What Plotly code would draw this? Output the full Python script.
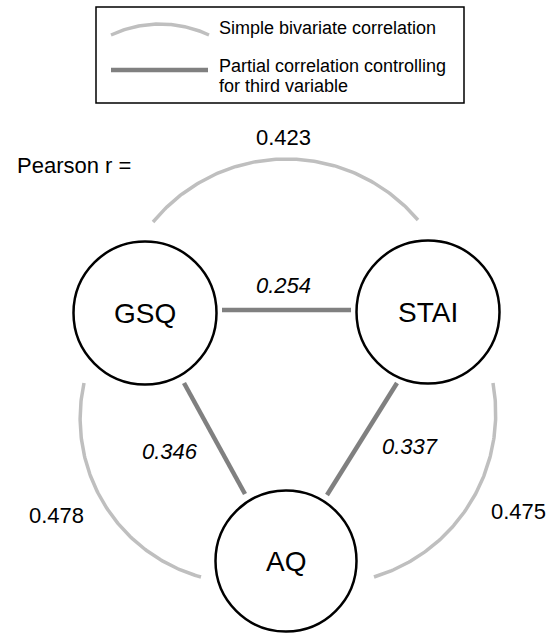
import math
import numpy as np
import plotly.graph_objects as go

# ---------------- data ----------------
nodes = ["GSQ", "STAI", "AQ"]
pair_a = ["GSQ", "GSQ", "STAI"]
pair_b = ["STAI", "AQ", "AQ"]
simple_r = [0.423, 0.478, 0.475]      # simple bivariate correlations
partial_r = [0.254, 0.346, 0.337]     # partial correlations
legend_lines = ["Simple bivariate correlation",
                "Partial correlation controlling",
                "for third variable"]
prefix_label = "Pearson r ="

# ---------------- layout (pixel space) ----------------
W, H = 555, 634
node_pos = {"GSQ": (145, 313), "STAI": (428, 312), "AQ": (286, 561)}
node_r = {"GSQ": 71.5, "STAI": 71.5, "AQ": 70.5}
# arcs: start, mid, end
arc_geom = [((153, 222), (286, 159), (418, 220)),
            ((84, 383), (98, 493), (201, 577)),
            ((493, 383), (476, 493), (374, 577))]
simple_lbl_pos = [(283, 137), (56, 515), (518, 511)]
partial_seg = [((222, 310), (351, 310)),
               ((184, 383), (245, 494)),
               ((397, 383), (327, 495))]
partial_lbl_pos = [(283, 285), (170, 451), (410, 446)]
legend_text_pos = [(217, 28), (217, 66), (217, 86)]

LIGHT = "#bfbfbf"
DARK = "#808080"
FONT = "Liberation Sans, Arial, sans-serif"


def arc_points(p1, p2, p3, n=120):
    (x1, y1), (x2, y2), (x3, y3) = p1, p2, p3
    d = 2 * (x1 * (y2 - y3) + x2 * (y3 - y1) + x3 * (y1 - y2))
    ux = ((x1**2 + y1**2) * (y2 - y3) + (x2**2 + y2**2) * (y3 - y1) + (x3**2 + y3**2) * (y1 - y2)) / d
    uy = ((x1**2 + y1**2) * (x3 - x2) + (x2**2 + y2**2) * (x1 - x3) + (x3**2 + y3**2) * (x2 - x1)) / d
    r = math.hypot(x1 - ux, y1 - uy)
    a1 = math.atan2(y1 - uy, x1 - ux)
    a2 = math.atan2(y2 - uy, x2 - ux)
    a3 = math.atan2(y3 - uy, x3 - ux)
    tw = 2 * math.pi
    d13 = (a3 - a1) % tw
    d12 = (a2 - a1) % tw
    if d12 > d13:
        d13 -= tw
    t = np.linspace(0, 1, n)
    ang = a1 + t * d13
    return ux + r * np.cos(ang), uy + r * np.sin(ang)


fig = go.Figure()

# simple correlation arcs
for i in range(len(simple_r)):
    xs, ys = arc_points(*arc_geom[i])
    fig.add_trace(go.Scatter(x=xs, y=ys, mode="lines",
                             line=dict(color=LIGHT, width=3.5),
                             hoverinfo="skip", showlegend=False))

# partial correlation lines
for i in range(len(partial_r)):
    (xa, ya), (xb, yb) = partial_seg[i]
    fig.add_trace(go.Scatter(x=[xa, xb], y=[ya, yb], mode="lines",
                             line=dict(color=DARK, width=4.5),
                             hoverinfo="skip", showlegend=False))

# legend samples
lx, ly = arc_points((111, 35), (160, 24), (209, 35), n=60)
fig.add_trace(go.Scatter(x=lx, y=ly, mode="lines", line=dict(color=LIGHT, width=3.5),
                         hoverinfo="skip", showlegend=False))
fig.add_trace(go.Scatter(x=[111, 208], y=[70, 70], mode="lines", line=dict(color=DARK, width=4.5),
                         hoverinfo="skip", showlegend=False))

shapes = []
# legend box
shapes.append(dict(type="rect", xref="x", yref="y", x0=96, x1=464, y0=7, y1=103,
                   line=dict(color="black", width=1.5), fillcolor="rgba(0,0,0,0)", layer="below"))
# node circles
for n in nodes:
    cx, cy = node_pos[n]
    r = node_r[n]
    shapes.append(dict(type="circle", xref="x", yref="y",
                       x0=cx - r, x1=cx + r, y0=cy - r, y1=cy + r,
                       line=dict(color="black", width=2.5), fillcolor="white", layer="above"))

ann = []
for n in nodes:
    cx, cy = node_pos[n]
    ann.append(dict(x=cx, y=cy, text=n, showarrow=False, xref="x", yref="y",
                    font=dict(family=FONT, size=28, color="black"),
                    xanchor="center", yanchor="middle"))
for i, v in enumerate(simple_r):
    x, y = simple_lbl_pos[i]
    ann.append(dict(x=x, y=y, text=f"{v:.3f}", showarrow=False, xref="x", yref="y",
                    font=dict(family=FONT, size=22, color="black"),
                    xanchor="center", yanchor="middle"))
for i, v in enumerate(partial_r):
    x, y = partial_lbl_pos[i]
    ann.append(dict(x=x, y=y, text=f"<i>{v:.3f}</i>", showarrow=False, xref="x", yref="y",
                    font=dict(family=FONT, size=22, color="black"),
                    xanchor="center", yanchor="middle"))
ann.append(dict(x=15, y=165, text=prefix_label, showarrow=False, xref="x", yref="y",
                font=dict(family=FONT, size=22, color="black"),
                xanchor="left", yanchor="middle"))
for txt, (x, y) in zip(legend_lines, legend_text_pos):
    ann.append(dict(x=x, y=y, text=txt, showarrow=False, xref="x", yref="y",
                    font=dict(family=FONT, size=18, color="black"),
                    xanchor="left", yanchor="middle"))

fig.update_layout(
    width=W, height=H, autosize=False,
    margin=dict(l=0, r=0, t=0, b=0),
    paper_bgcolor="white", plot_bgcolor="white",
    xaxis=dict(range=[0, W], visible=False, fixedrange=True),
    yaxis=dict(range=[H, 0], visible=False, fixedrange=True),
    shapes=shapes, annotations=ann, showlegend=False,
)
fig.write_html("out.html", config={"displayModeBar": False},
               post_script="document.body.style.margin='0';document.body.style.overflow='hidden';")
